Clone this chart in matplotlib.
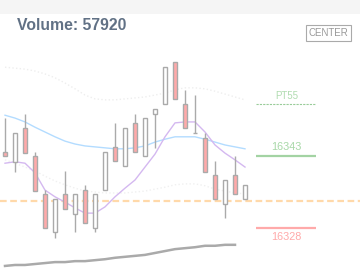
import matplotlib.pyplot as plt
import numpy as np
from matplotlib.patches import Rectangle

# Candle data (open, high, low, close)
opens = [16343.8, 16341.8, 16348.8, 16343.0, 16335.1, 16327.2, 16335.1, 16330.9, 16335.9, 16328.0,
         16335.9, 16344.9, 16340.9, 16349.9, 16343.0, 16351.8, 16353.8, 16362.6, 16353.8, 16347.8,
         16346.8, 16339.0, 16333.0, 16339.0, 16334.0]
highs = [16350.9, 16347.8, 16351.8, 16343.8, 16335.9, 16334.0, 16339.9, 16335.1, 16337.0, 16335.1,
         16343.8, 16349.9, 16348.8, 16351.8, 16350.9, 16352.8, 16361.5, 16362.6, 16356.8, 16355.7,
         16347.8, 16342.0, 16338.0, 16343.0, 16337.0]
lows = [16343.0, 16339.7, 16343.6, 16335.7, 16328.0, 16325.9, 16332.0, 16327.2, 16329.0, 16327.2,
        16335.9, 16342.0, 16340.9, 16343.8, 16343.0, 16344.7, 16353.8, 16354.9, 16348.8, 16347.8,
        16339.7, 16334.0, 16330.1, 16335.1, 16334.0]
closes = [16343.0, 16347.8, 16343.6, 16335.7, 16328.0, 16334.0, 16332.0, 16335.1, 16329.0, 16335.1,
          16343.8, 16342.0, 16348.8, 16343.8, 16350.9, 16352.8, 16361.5, 16354.9, 16348.8, 16347.8,
          16339.7, 16334.0, 16338.0, 16335.1, 16337.0]

# moving averages / bands
ma_blue = [16351.5, 16350.9, 16350.1, 16349.0, 16348.0, 16347.0, 16346.1, 16345.5, 16345.1, 16344.9,
           16344.7, 16344.5, 16344.5, 16344.7, 16345.1, 16345.9, 16346.5, 16347.0, 16347.0, 16347.0,
           16346.5, 16345.9, 16345.3, 16344.9, 16344.5]
ma_purple = [16341.5, 16341.8, 16341.5, 16339.5, 16335.9, 16334.5, 16333.4, 16332.2, 16331.1, 16331.1,
             16332.4, 16334.5, 16336.3, 16338.0, 16340.7, 16343.4, 16347.0, 16349.9, 16350.1, 16350.1,
             16348.0, 16345.3, 16343.6, 16342.2, 16340.7]
band_upper = [16361.5, 16361.3, 16361.1, 16360.7, 16360.1, 16359.3, 16358.2, 16357.0, 16355.7, 16354.9,
              16354.7, 16354.7, 16354.9, 16355.1, 16355.3, 16355.7, 16356.1, 16356.8, 16357.2, 16357.2,
              16357.0, 16356.5, 16355.9, 16355.3, 16354.7]
band_lower = [16342.2, 16341.5, 16340.7, 16339.9, 16338.8, 16337.8, 16337.0, 16336.3, 16335.7, 16335.5,
              16335.3, 16335.3, 16335.3, 16335.5, 16335.7, 16336.1, 16336.5, 16337.0, 16337.2, 16337.2,
              16336.8, 16336.1, 16335.7, 16335.3, 16335.1]
ma_long = [16320.1, 16320.3, 16320.3, 16320.5, 16320.7, 16320.9, 16320.9, 16321.1, 16321.1, 16321.3,
           16321.5, 16321.8, 16322.0, 16322.2, 16322.4, 16322.8, 16323.2, 16323.6, 16323.8, 16324.0,
           16324.3, 16324.3, 16324.5, 16324.5]

center_price = 16333.6
level_high = 16343
level_low = 16328
level_pt = 16353.8
pt_label = "PT55"
volume = 57920

fig = plt.figure(figsize=(3.6, 2.8), dpi=100)
fig.patch.set_facecolor('white')
fig.patches.append(Rectangle((0, 1 - 14 / 280), 1, 14 / 280, transform=fig.transFigure,
                             facecolor='#f5f5f5', edgecolor='none', zorder=0))
ax = fig.add_axes([0, 0, 1, 1])
ax.set_axis_off()
ax.patch.set_alpha(0)
ax.set_xlim(-0.5, 35.5)
ax.set_ylim(16317.17, 16375.5)

x = np.arange(len(opens))
o = np.array(opens)
c = np.array(closes)

# bands and MAs
ax.plot(x, band_upper, color='#eeeeee', lw=1, ls=':', zorder=1)
ax.plot(x, band_lower, color='#f0f0f0', lw=1, ls=':', zorder=1)
ax.plot(x, ma_blue, color='#b3dcff', lw=1, zorder=2)
ax.plot(x, ma_purple, color='#d4b8f0', lw=1, zorder=2)
ax.plot(np.arange(len(ma_long)), ma_long, color='#aaaaaa', lw=1.8, zorder=2)

ax.axhline(center_price, color='#ffd9aa', lw=1.6, ls=(0, (3, 1.6)), zorder=1)

# candles
ax.vlines(x, lows, highs, color='#aaaaaa', lw=1, zorder=3)
down = c < o
up = c > o
ax.bar(x[down], (o - c)[down], bottom=c[down], width=0.45, color='#ffaaaa',
       edgecolor='#aaaaaa', lw=1, zorder=4)
ax.bar(x[up], (c - o)[up], bottom=o[up], width=0.45, color='white',
       edgecolor='#aaaaaa', lw=1, zorder=4)
flat = x[c == o]
ax.hlines(c[c == o], flat - 0.22, flat + 0.22, color='#aaaaaa', lw=1, zorder=4)

# right side levels
ax.hlines(level_pt, 25.1, 31.1, color='#99cc99', lw=0.8, ls=(0, (2, 1)), zorder=2)
ax.text(28.2, level_pt + 0.6, pt_label, color='#b0dcb0', fontsize=7, ha='center',
        va='bottom', family='Liberation Sans')
ax.hlines(level_high, 25.1, 31.1, color='#a3d3a3', lw=1.6, zorder=2)
ax.text(28.1, level_high + 0.8, str(level_high), color='#a8d8a8', fontsize=7.8,
        ha='center', va='bottom', family='Liberation Sans')
ax.hlines(level_low, 25.1, 31.1, color='#ffaaaa', lw=1.6, zorder=2)
ax.text(28.1, level_low - 0.8, str(level_low), color='#ffaaaa', fontsize=7.8,
        ha='center', va='top', family='Liberation Sans')

ax.text(17 / 360, 1 - 30 / 280, f"Volume: {volume}", transform=ax.transAxes,
        color='#617185', fontsize=11.3, fontweight='bold', ha='left', va='baseline',
        family='Liberation Sans')
ax.text(328.5 / 360, 1 - 33 / 280, "CENTER", transform=ax.transAxes, color='#999999',
        fontsize=7, ha='center', va='center', family='Liberation Sans',
        bbox=dict(boxstyle='square,pad=0.3', facecolor='white', edgecolor='#aaaaaa', lw=0.8))

fig.savefig('out.png', dpi=100)
